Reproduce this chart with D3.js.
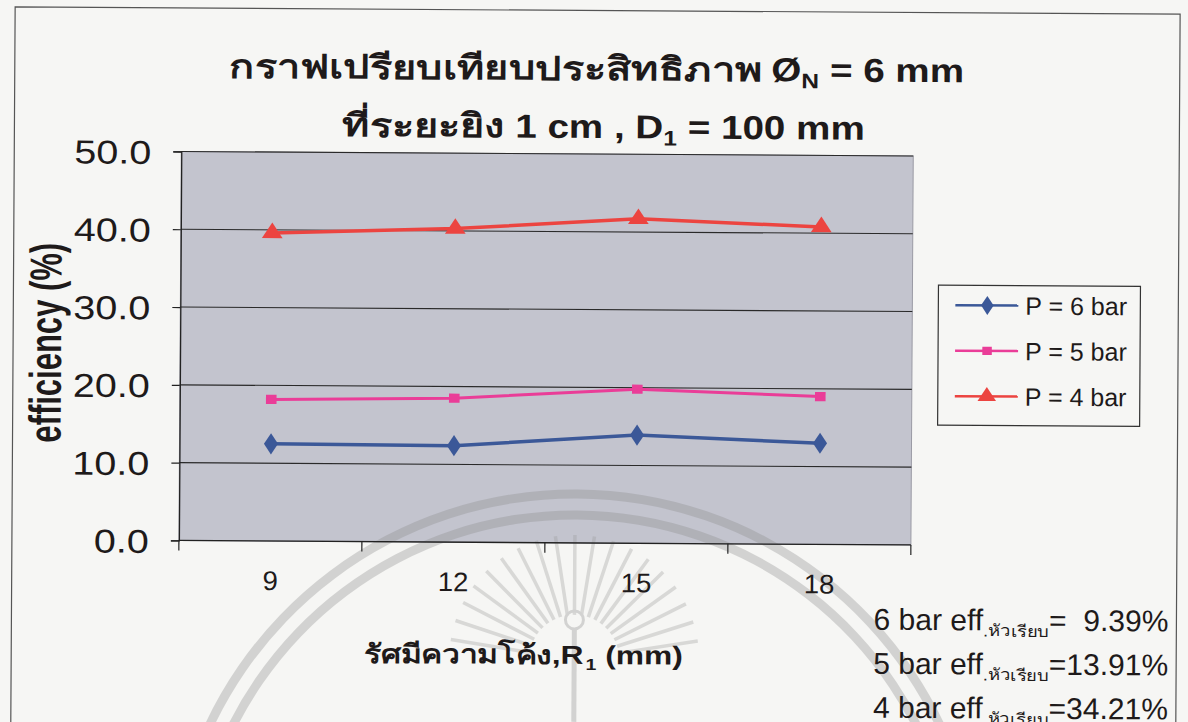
<!DOCTYPE html>
<html>
<head>
<meta charset="utf-8">
<script src="https://cdn.jsdelivr.net/npm/d3@7"></script>
<style>
  html, body { margin: 0; padding: 0; background: #f6f6f4; }
  svg { display: block; }
  text { font-family: "Liberation Sans", Arial, "DejaVu Sans", sans-serif; fill: #1e1a1a; }
</style>
</head>
<body>
<svg id="chart" width="1188" height="722"></svg>
<script>
// Nozzle radius of curvature R1 (mm)
const categories = ["9", "12", "15", "18"];
// Efficiency (%) at each radius, one array per supply pressure
const effP6 = [12.5, 12.4, 13.9, 13.0];
const effP5 = [18.2, 18.5, 19.8, 19.0];
const effP4 = [39.6, 40.3, 41.7, 40.8];
const seriesNames = ["P = 6 bar", "P = 5 bar", "P = 4 bar"];
const yTicks = [0, 10, 20, 30, 40, 50];
// Flat-head reference efficiencies
const flatPressures = ["6", "5", "4"];
const flatEff = ["  9.39", "13.91", "34.21"];

const plot = { left: 180, right: 912, top: 154, bottom: 543 };

const svg = d3.select("#chart");
const root = svg.append("g").attr("transform", "rotate(0.35 594 361)");

// Lays out a run of text pieces side by side; each piece may have its own
// size, vertical offset and horizontal stretch.
function drawRuns(parent, x0, y0, runs, anchor, base) {
  const g = parent.append("g");
  const items = runs.map(r => {
    const t = g.append("text")
      .attr("font-size", r.size || base.size)
      .attr("font-weight", r.weight || base.weight || "normal")
      .style("white-space", "pre")
      .text(r.t);
    const sx = r.sx || base.sx || 1;
    return { node: t, w: t.node().getComputedTextLength() * sx, sx, dy: r.dy || 0 };
  });
  const total = d3.sum(items, d => d.w);
  let xx = anchor === "middle" ? x0 - total / 2 : anchor === "end" ? x0 - total : x0;
  items.forEach(it => {
    it.node.attr("transform", `translate(${xx},${y0 + it.dy}) scale(${it.sx},1)`);
    xx += it.w;
  });
  return g;
}

// outer chart frame
root.append("path")
  .attr("d", "M13,760 L13,10.5 L1178,10.5 L1178,760")
  .attr("fill", "none").attr("stroke", "#555").attr("stroke-width", 1.2);

const x = d3.scaleBand().domain(categories).range([plot.left, plot.right]).padding(0);
const y = d3.scaleLinear().domain([0, 50]).range([plot.bottom, plot.top]);

// plot area
root.append("rect")
  .attr("x", plot.left).attr("y", plot.top)
  .attr("width", plot.right - plot.left).attr("height", plot.bottom - plot.top)
  .attr("fill", "#c3c4ce").attr("stroke", "#9a9aa4").attr("stroke-width", 1);

// faint seal printed on the page: twin rings and a fan of rays
const seal = root.append("g").attr("opacity", 0.32);
[404, 383].forEach(r => {
  seal.append("path").attr("transform", "translate(578,898)")
    .attr("d", d3.arc()({ innerRadius: r - 4.5, outerRadius: r + 4.5, startAngle: -1.3, endAngle: 1.3 }))
    .attr("fill", "#8a8a8a");
});
const rays = d3.range(-81, 82, 9);
seal.append("g").attr("transform", "translate(576,660)")
  .selectAll("line").data(rays).join("line")
  .attr("x1", a => 45 * Math.sin(a * Math.PI / 180))
  .attr("y1", a => -45 * Math.cos(a * Math.PI / 180))
  .attr("x2", a => 125 * Math.sin(a * Math.PI / 180))
  .attr("y2", a => -125 * Math.cos(a * Math.PI / 180))
  .attr("stroke", "#9a9a9a").attr("stroke-width", 3.5);
seal.append("circle").attr("cx", 576).attr("cy", 620).attr("r", 9)
  .attr("fill", "none").attr("stroke", "#8a8a8a").attr("stroke-width", 3);
seal.append("line").attr("x1", 576).attr("x2", 576).attr("y1", 629).attr("y2", 722)
  .attr("stroke", "#8a8a8a").attr("stroke-width", 5);

// horizontal gridlines
root.append("g").selectAll("line").data(yTicks.filter(d => d > 0)).join("line")
  .attr("x1", plot.left).attr("x2", plot.right)
  .attr("y1", d => y(d)).attr("y2", d => y(d))
  .attr("stroke", "#2a2a2a").attr("stroke-width", 1.1);

// y axis
const yAxis = root.append("g").attr("transform", `translate(${plot.left},0)`)
  .call(d3.axisLeft(y).tickValues(yTicks).tickFormat(d3.format(".1f")).tickSize(8));
yAxis.select(".domain").attr("stroke", "#222").attr("stroke-width", 1.3);
yAxis.selectAll(".tick line").attr("stroke", "#222").attr("stroke-width", 1.2);
yAxis.selectAll(".tick text")
  .attr("x", null).attr("dy", null)
  .attr("transform", "translate(-30,12) scale(1.2,1)")
  .attr("text-anchor", "end")
  .attr("font-size", 33).attr("fill", "#1e1a1a")
  .attr("font-family", "'Liberation Sans', Arial, sans-serif");

// x axis with Excel-style ticks between categories
const xAxisG = root.append("g").attr("transform", `translate(0,${plot.bottom})`);
xAxisG.append("line").attr("x1", plot.left).attr("x2", plot.right).attr("y1", 0).attr("y2", 0)
  .attr("stroke", "#222").attr("stroke-width", 1.3);
const boundaries = categories.map(c => x(c)).concat([plot.right]);
xAxisG.selectAll("line.tk").data(boundaries).join("line").attr("class", "tk")
  .attr("x1", d => d).attr("x2", d => d).attr("y1", 0).attr("y2", 10)
  .attr("stroke", "#222").attr("stroke-width", 1.2);
xAxisG.selectAll("text").data(categories).join("text")
  .attr("transform", d => `translate(${x(d) + x.bandwidth() / 2},${49}) scale(1.02,1)`)
  .attr("text-anchor", "middle").attr("font-size", 27).text(d => d);

// series
const series = [
  { name: seriesNames[0], values: effP6, color: "#3b5898", marker: d3.symbolDiamond, size: 130, width: 3.5 },
  { name: seriesNames[1], values: effP5, color: "#ea3d98", marker: d3.symbolSquare, size: 85, width: 3 },
  { name: seriesNames[2], values: effP4, color: "#ec4440", marker: d3.symbolTriangle, size: 140, width: 3.5 }
];
const cx = c => x(c) + x.bandwidth() / 2;
const line = d3.line().x((d, i) => cx(categories[i])).y(d => y(d));

series.forEach(s => {
  const g = root.append("g");
  g.append("path").datum(s.values).attr("d", line)
    .attr("fill", "none").attr("stroke", s.color).attr("stroke-width", s.width);
  g.selectAll("path.m").data(s.values).join("path").attr("class", "m")
    .attr("transform", (d, i) => `translate(${cx(categories[i])},${y(d)}) scale(1.15,1)`)
    .attr("d", d3.symbol().type(s.marker).size(s.size))
    .attr("fill", s.color);
});

// titles
drawRuns(root, 595, 80, [
  { t: "กราฟเปรียบเทียบประสิทธิภาพ", sx: 1.25 },
  { t: " Ø" },
  { t: "N", size: 21, dy: 7 },
  { t: " = 6 mm" }
], "middle", { size: 33, weight: "bold", sx: 1.17 });

drawRuns(root, 602, 138, [
  { t: "ที่ระยะยิง", sx: 1.25 },
  { t: " 1 cm , D" },
  { t: "1", size: 21, dy: 7 },
  { t: " = 100 mm" }
], "middle", { size: 33, weight: "bold", sx: 1.17 });

// axis titles
root.append("text").attr("transform", "translate(61,346) scale(1.45,1) rotate(-90)")
  .attr("text-anchor", "middle").attr("font-size", 31).attr("font-weight", "bold")
  .text("efficiency (%)");

drawRuns(root, 525, 664, [
  { t: "รัศมีความโค้ง,R" },
  { t: "1", size: 16, dy: 6 },
  { t: " (mm)" }
], "middle", { size: 26, weight: "bold", sx: 1.22 });

// legend
const lg = root.append("g").attr("transform", "translate(938,283)");
lg.append("rect").attr("width", 202).attr("height", 140)
  .attr("fill", "#f6f6f4").attr("stroke", "#333").attr("stroke-width", 1.2);
series.forEach((s, i) => {
  const gy = 20 + i * 45.5;
  lg.append("line").attr("x1", 17).attr("x2", 80).attr("y1", gy).attr("y2", gy)
    .attr("stroke", s.color).attr("stroke-width", 2.5);
  lg.append("path").attr("transform", `translate(49,${gy}) scale(1.15,1)`)
    .attr("d", d3.symbol().type(s.marker).size(s.size * 0.8)).attr("fill", s.color);
  lg.append("text").attr("x", 87).attr("y", gy + 9).attr("font-size", 25).text(s.name);
});

// flat-head efficiency notes
flatPressures.forEach((p, i) => {
  drawRuns(root, 1170, 628 + i * 44, [
    { t: `${p} bar eff` },
    { t: ".หัวเรียบ", size: 16, dy: 6, sx: 1.15 },
    { t: `=${flatEff[i]}%` }
  ], "end", { size: 30, sx: 1.0 });
});
</script>
</body>
</html>
